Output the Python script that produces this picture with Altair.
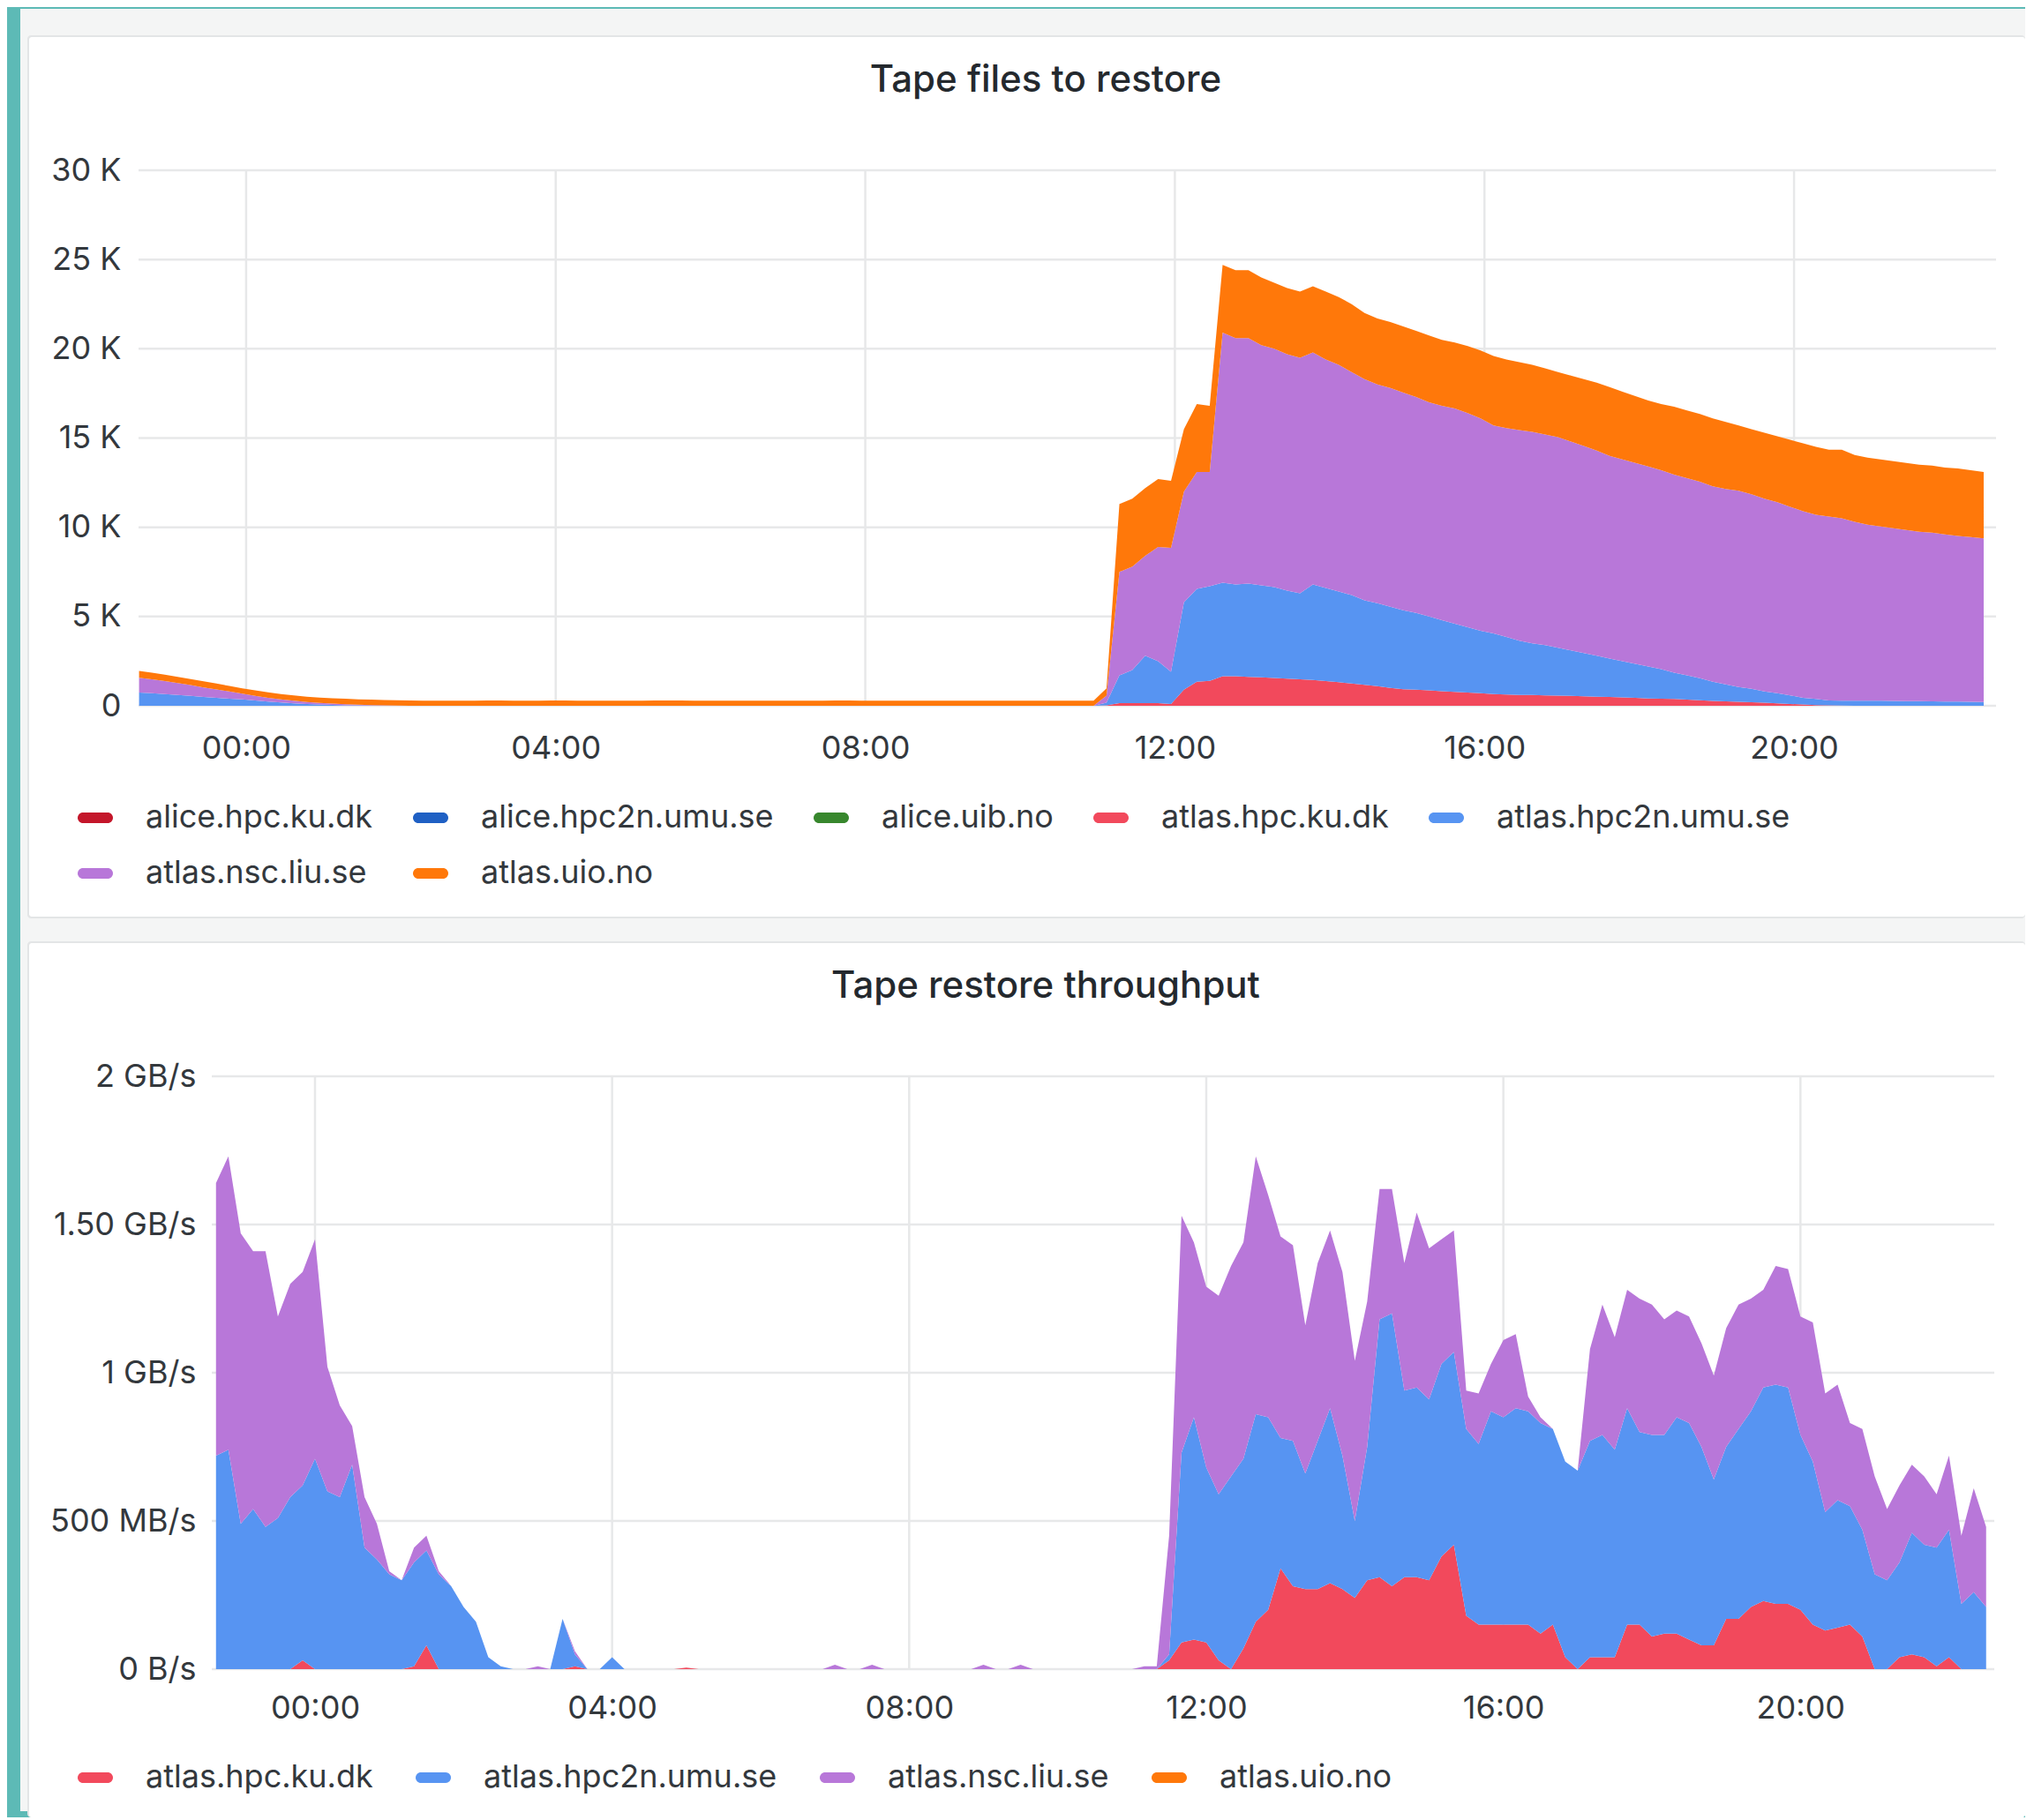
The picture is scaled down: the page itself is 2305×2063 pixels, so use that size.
import altair as alt
import pandas as pd

# ---------------- data ----------------
SERIES = ["alice.hpc.ku.dk", "alice.hpc2n.umu.se", "alice.uib.no",
          "atlas.hpc.ku.dk", "atlas.hpc2n.umu.se", "atlas.nsc.liu.se", "atlas.uio.no"]
COLORS = ["#C4162A", "#1F60C4", "#37872D", "#F2495C", "#5794F2", "#B877D9", "#FF780A"]
BOTTOM_SERIES = SERIES[3:]
BOTTOM_COLORS = COLORS[3:]

X_DOMAIN = [-1.39, 22.61]          # hours relative to midnight (22:37 .. 22:37)
X_TICKS = [0, 4, 8, 12, 16, 20]
X_LABELS = ["00:00", "04:00", "08:00", "12:00", "16:00", "20:00"]
TOP_Y_TICKS = [0, 5000, 10000, 15000, 20000, 25000, 30000]
TOP_Y_LABELS = ["0", "5 K", "10 K", "15 K", "20 K", "25 K", "30 K"]
BOT_Y_TICKS = [0, 0.5, 1, 1.5, 2]
BOT_Y_LABELS = ["0 B/s", "500 MB/s", "1 GB/s", "1.50 GB/s", "2 GB/s"]

TOP_TITLE = "Tape files to restore"
BOT_TITLE = "Tape restore throughput"

TOP_START_H = -1.3833   # 22:37, 10-minute samples
BOT_START_H = -1.3333   # 22:40, 10-minute samples
STEP_H = 1 / 6

# Tape files to restore (files), one row = 2 hours
top_atlas_hpc_ku = [
    0, 0, 0, 0, 0, 0, 0, 0, 0, 0, 0, 0,
    0, 0, 0, 0, 0, 0, 0, 0, 0, 0, 0, 0,
    0, 0, 0, 0, 0, 0, 0, 0, 0, 0, 0, 0,
    0, 0, 0, 0, 0, 0, 0, 0, 0, 0, 0, 0,
    0, 0, 0, 0, 0, 0, 0, 0, 0, 0, 0, 0,
    0, 0, 0, 0, 0, 0, 0, 0, 0, 0, 0, 0,
    0, 0, 0, 20, 150, 150, 150, 150, 100, 900, 1350, 1400,
    1650, 1650, 1620, 1600, 1560, 1520, 1480, 1450, 1380, 1320, 1250, 1170,
    1100, 1000, 930, 900, 860, 820, 780, 740, 700, 660, 630, 610,
    600, 580, 570, 550, 530, 510, 490, 470, 440, 410, 400, 380,
    350, 310, 270, 250, 220, 200, 170, 140, 100, 70, 40, 20,
    10, 0, 0, 0, 0, 0, 0, 0, 0, 0, 0, 0,
]
top_atlas_hpc2n = [
    740, 700, 660, 600, 550, 500, 450, 400, 360, 300, 240, 190,
    140, 100, 70, 50, 30, 20, 10, 0, 0, 0, 0, 0,
    0, 0, 0, 0, 0, 0, 0, 0, 0, 0, 0, 0,
    0, 0, 0, 0, 0, 0, 0, 0, 0, 0, 0, 0,
    0, 0, 0, 0, 0, 0, 0, 0, 0, 0, 0, 0,
    0, 0, 0, 0, 0, 0, 0, 0, 0, 0, 0, 0,
    0, 0, 0, 150, 1550, 1850, 2650, 2350, 1800, 4900, 5200, 5300,
    5250, 5150, 5230, 5150, 5090, 4930, 4820, 5350, 5220, 5080, 4950, 4730,
    4650, 4550, 4420, 4300, 4140, 3980, 3820, 3660, 3500, 3390, 3220, 3040,
    2900, 2820, 2680, 2550, 2420, 2290, 2160, 2030, 1910, 1790, 1650, 1470,
    1350, 1240, 1080, 950, 830, 750, 630, 560, 480, 380, 340, 280,
    270, 280, 280, 280, 270, 260, 260, 250, 240, 230, 220, 210,
]
top_atlas_nsc = [
    830, 780, 720, 670, 610, 530, 470, 400, 320, 260, 210, 170,
    140, 110, 90, 70, 60, 40, 30, 20, 10, 0, 0, 0,
    0, 0, 0, 0, 0, 0, 0, 0, 0, 0, 0, 0,
    0, 0, 0, 0, 0, 0, 0, 0, 0, 0, 0, 0,
    0, 0, 0, 0, 0, 0, 0, 0, 0, 0, 0, 0,
    0, 0, 0, 0, 0, 0, 0, 0, 0, 0, 0, 0,
    0, 0, 0, 400, 5800, 5800, 5600, 6400, 6950, 6200, 6550, 6400,
    14000, 13800, 13750, 13450, 13350, 13250, 13200, 13000, 12800, 12700, 12500, 12400,
    12250, 12250, 12200, 12100, 12000, 12000, 12050, 12000, 11900, 11650, 11700, 11800,
    11850, 11800, 11800, 11700, 11600, 11500, 11350, 11300, 11250, 11200, 11150, 11100,
    11050, 11000, 10950, 10950, 11000, 10900, 10800, 10700, 10570, 10450, 10320, 10300,
    10220, 10020, 9870, 9770, 9680, 9590, 9490, 9450, 9360, 9290, 9230, 9170,
]
top_atlas_uio = [
    380, 370, 360, 350, 340, 340, 330, 310, 300, 300, 300, 300,
    300, 300, 300, 300, 300, 300, 300, 300, 300, 300, 290, 290,
    290, 280, 290, 300, 300, 290, 290, 290, 300, 300, 290, 290,
    290, 290, 290, 290, 300, 300, 300, 290, 290, 290, 290, 290,
    290, 290, 290, 290, 290, 290, 300, 300, 290, 290, 290, 290,
    290, 290, 290, 290, 290, 290, 290, 290, 290, 290, 290, 290,
    290, 290, 290, 400, 3800, 3800, 3800, 3800, 3750, 3500, 3800, 3700,
    3800, 3800, 3800, 3800, 3700, 3700, 3700, 3700, 3800, 3800, 3800, 3700,
    3700, 3700, 3700, 3700, 3750, 3700, 3700, 3750, 3800, 3900, 3850, 3800,
    3750, 3700, 3650, 3700, 3750, 3800, 3850, 3800, 3750, 3700, 3700, 3800,
    3800, 3800, 3800, 3750, 3650, 3650, 3700, 3700, 3750, 3800, 3800, 3750,
    3850, 3750, 3750, 3750, 3750, 3750, 3750, 3750, 3750, 3780, 3750, 3720,
]

# Tape restore throughput (GB/s), one row = 2 hours
bot_atlas_hpc_ku = [
    0, 0, 0, 0, 0, 0, 0, 0.03, 0, 0, 0, 0,
    0, 0, 0, 0, 0.01, 0.08, 0, 0, 0, 0, 0, 0,
    0, 0, 0, 0, 0, 0.01, 0, 0, 0, 0, 0, 0,
    0, 0, 0.005, 0, 0, 0, 0, 0, 0, 0, 0, 0,
    0, 0, 0, 0, 0, 0, 0, 0, 0, 0, 0, 0,
    0, 0, 0, 0, 0, 0, 0, 0, 0, 0, 0, 0,
    0, 0, 0, 0, 0, 0.03, 0.09, 0.10, 0.09, 0.03, 0, 0.07,
    0.16, 0.20, 0.34, 0.28, 0.27, 0.27, 0.29, 0.27, 0.24, 0.30, 0.31, 0.28,
    0.31, 0.31, 0.30, 0.38, 0.42, 0.18, 0.15, 0.15, 0.15, 0.15, 0.15, 0.12,
    0.15, 0.04, 0, 0.04, 0.04, 0.04, 0.15, 0.15, 0.11, 0.12, 0.12, 0.10,
    0.08, 0.08, 0.17, 0.17, 0.21, 0.23, 0.22, 0.22, 0.20, 0.15, 0.13, 0.14,
    0.15, 0.11, 0, 0, 0.04, 0.05, 0.04, 0.01, 0.04, 0, 0, 0,
]
bot_atlas_hpc2n = [
    0.72, 0.74, 0.49, 0.54, 0.48, 0.51, 0.58, 0.59, 0.71, 0.60, 0.58, 0.69,
    0.41, 0.37, 0.32, 0.30, 0.35, 0.32, 0.32, 0.28, 0.21, 0.16, 0.04, 0.01,
    0, 0, 0, 0, 0.17, 0.04, 0, 0, 0.04, 0, 0, 0,
    0, 0, 0, 0, 0, 0, 0, 0, 0, 0, 0, 0,
    0, 0, 0, 0, 0, 0, 0, 0, 0, 0, 0, 0,
    0, 0, 0, 0, 0, 0, 0, 0, 0, 0, 0, 0,
    0, 0, 0, 0, 0, 0.02, 0.64, 0.75, 0.59, 0.56, 0.65, 0.64,
    0.70, 0.65, 0.44, 0.49, 0.39, 0.50, 0.59, 0.45, 0.26, 0.45, 0.87, 0.92,
    0.63, 0.64, 0.61, 0.65, 0.65, 0.63, 0.61, 0.72, 0.70, 0.73, 0.72, 0.71,
    0.66, 0.66, 0.67, 0.73, 0.75, 0.70, 0.73, 0.65, 0.68, 0.67, 0.73, 0.73,
    0.67, 0.56, 0.58, 0.64, 0.66, 0.72, 0.74, 0.73, 0.59, 0.55, 0.40, 0.43,
    0.40, 0.36, 0.32, 0.30, 0.32, 0.41, 0.38, 0.40, 0.43, 0.22, 0.26, 0.21,
]
bot_atlas_nsc = [
    0.92, 0.99, 0.98, 0.87, 0.93, 0.68, 0.72, 0.72, 0.74, 0.42, 0.31, 0.13,
    0.17, 0.12, 0.01, 0, 0.05, 0.05, 0.01, 0, 0, 0, 0, 0,
    0, 0, 0.01, 0, 0, 0.01, 0, 0, 0, 0, 0, 0,
    0, 0, 0, 0, 0, 0, 0, 0, 0, 0, 0, 0,
    0, 0, 0.015, 0, 0, 0.015, 0, 0, 0, 0, 0, 0,
    0, 0, 0.015, 0, 0, 0.015, 0, 0, 0, 0, 0, 0,
    0, 0, 0, 0.01, 0.01, 0.40, 0.80, 0.59, 0.61, 0.67, 0.71, 0.73,
    0.87, 0.75, 0.68, 0.66, 0.50, 0.60, 0.60, 0.62, 0.54, 0.49, 0.44, 0.42,
    0.43, 0.59, 0.51, 0.42, 0.41, 0.13, 0.17, 0.16, 0.26, 0.25, 0.05, 0.02,
    0, 0, 0, 0.31, 0.44, 0.38, 0.40, 0.45, 0.44, 0.39, 0.36, 0.36,
    0.35, 0.35, 0.40, 0.42, 0.38, 0.33, 0.40, 0.40, 0.40, 0.47, 0.40, 0.39,
    0.28, 0.34, 0.33, 0.24, 0.26, 0.23, 0.23, 0.18, 0.25, 0.23, 0.35, 0.27,
]

# ---------------- styling ----------------
FONT = "Inter"
TITLE_COLOR = "#24292e"
TEXT_COLOR = "#33383d"
GRID_COLOR = "#e7e8e9"
TEAL = "#5dbab6"
GUTTER = "#f4f5f5"
BORDER = "#e3e5e6"
PILL = "M-0.7,-0.3L0.7,-0.3A0.3,0.3,0,0,1,0.7,0.3L-0.7,0.3A0.3,0.3,0,0,1,-0.7,-0.3Z"


def build_frame(start_h, names, columns):
    rows = []
    for name, vals in zip(names, columns):
        for i, v in enumerate(vals):
            rows.append({"h": start_h + i * STEP_H, "value": v,
                         "series": name, "idx": SERIES.index(name)})
    return pd.DataFrame(rows)


def label_expr(values, labels):
    expr = "''"
    for v, s in reversed(list(zip(values, labels))):
        expr = f"(abs(datum.value - {v}) < 1e-6 ? '{s}' : {expr})"
    return expr


one_row = pd.DataFrame({"k": [0]})


def rect(color, x, x2, y, y2, radius=0):
    return alt.Chart(one_row).mark_rect(color=color, cornerRadius=radius).encode(
        x=alt.value(x), x2=alt.value(x2), y=alt.value(y), y2=alt.value(y2))


def panel(df, names, colors, y_dom, y_ticks, y_labels, width, height, x_range,
          y_offset, y_pad, x_pad, title, title_x, legend_cols, legend_y, col_pad, frame):
    xscale = alt.Scale(domain=X_DOMAIN, nice=False, zero=False, range=x_range)
    yscale = alt.Scale(domain=y_dom, nice=False)
    xaxis = alt.Axis(values=X_TICKS, labelExpr=label_expr(X_TICKS, X_LABELS),
                     grid=False, domain=False, ticks=False, tickSize=0,
                     labelPadding=x_pad, labelBaseline="middle", labelFont=FONT,
                     labelFontSize=36, labelColor=TEXT_COLOR, labelFlush=False,
                     labelOverlap=False, title=None, zindex=2)
    yaxis = alt.Axis(values=y_ticks, labelExpr=label_expr(y_ticks, y_labels),
                     grid=False, domain=False, ticks=False, tickSize=0,
                     labelPadding=y_pad, labelFont=FONT, labelFontSize=36,
                     labelColor=TEXT_COLOR, labelFlush=False, labelOverlap=False,
                     title=None, zindex=2, offset=y_offset)
    legend = alt.Legend(title=None, orient="none", legendX=-69, legendY=legend_y,
                        direction="horizontal", columns=legend_cols,
                        symbolType=PILL, symbolSize=1600, symbolStrokeWidth=0,
                        symbolOpacity=1, labelFont=FONT, labelFontSize=36,
                        labelColor=TEXT_COLOR, labelOffset=37, columnPadding=col_pad,
                        rowPadding=25, padding=0, gridAlign="each", labelLimit=0)

    vgrid = alt.Chart(pd.DataFrame({"h": X_TICKS})).mark_rule(
        color=GRID_COLOR, strokeWidth=2.5).encode(
        x=alt.X("h:Q", scale=xscale, axis=xaxis),
        y=alt.YDatum(y_dom[0], scale=yscale, axis=yaxis),
        y2=alt.Y2Datum(y_dom[1]))
    hgrid = alt.Chart(pd.DataFrame({"v": y_ticks})).mark_rule(
        color=GRID_COLOR, strokeWidth=2.5).encode(
        y=alt.Y("v:Q", scale=yscale, axis=yaxis),
        x=alt.XDatum(X_DOMAIN[0], scale=xscale, axis=xaxis),
        x2=alt.X2Datum(X_DOMAIN[1]))
    area = alt.Chart(df).mark_area(opacity=1).encode(
        x=alt.X("h:Q", scale=xscale, axis=xaxis),
        y=alt.Y("value:Q", stack="zero", scale=yscale, axis=yaxis),
        color=alt.Color("series:N", scale=alt.Scale(domain=names, range=colors),
                        legend=legend),
        order=alt.Order("idx:Q", sort="ascending"),
    )
    heading = alt.Chart(one_row).mark_text(
        font=FONT, fontSize=42, fontWeight=500, color=TITLE_COLOR,
        align="center", baseline="middle").encode(
        x=alt.value(title_x), y=alt.value(-102), text=alt.value(title))
    (gx, gx2, gy, gy2), (bx, by, by2), (wy, wy2) = frame
    layers = [
        rect(GUTTER, gx, gx2, gy, gy2),
        rect(BORDER, bx, gx2, by, by2, 4),
        rect("white", bx + 2, gx2, wy, wy2, 3),
        vgrid, hgrid, area, heading,
    ]
    return alt.layer(*layers).properties(width=width, height=height)


top_df = build_frame(TOP_START_H, BOTTOM_SERIES,
                     [top_atlas_hpc_ku, top_atlas_hpc2n, top_atlas_nsc, top_atlas_uio])
bot_df = build_frame(BOT_START_H, BOTTOM_SERIES[:3],
                     [bot_atlas_hpc_ku, bot_atlas_hpc2n, bot_atlas_nsc])

top = panel(top_df, SERIES, COLORS, [0, 30000], TOP_Y_TICKS, TOP_Y_LABELS,
            2105, 607, [0, 2105], 0, 20, 48,
            TOP_TITLE, 1028, 5, 714, 45,
            ((-134, 2138, -183, 861), (-126, -153, 848), (-151, 846)))

bottom = panel(bot_df, BOTTOM_SERIES, BOTTOM_COLORS, [0, 2], BOT_Y_TICKS, BOT_Y_LABELS,
               2103, 672, [83, 2103], -83, 18, 44,
               BOT_TITLE, 1028, 4, 775, 48,
               ((-134, 2138, -166, 833), (-126, -153, 840), (-151, 840)))

chart = alt.vconcat(top, bottom, spacing=0).resolve_scale(
    color="independent", x="independent", y="independent"
).properties(
    padding={"left": 15, "top": 2, "right": 0, "bottom": 0}
).configure(background=TEAL).configure_view(stroke=None)

chart.save("out.html", embed_options={"renderer": "svg", "actions": False})
